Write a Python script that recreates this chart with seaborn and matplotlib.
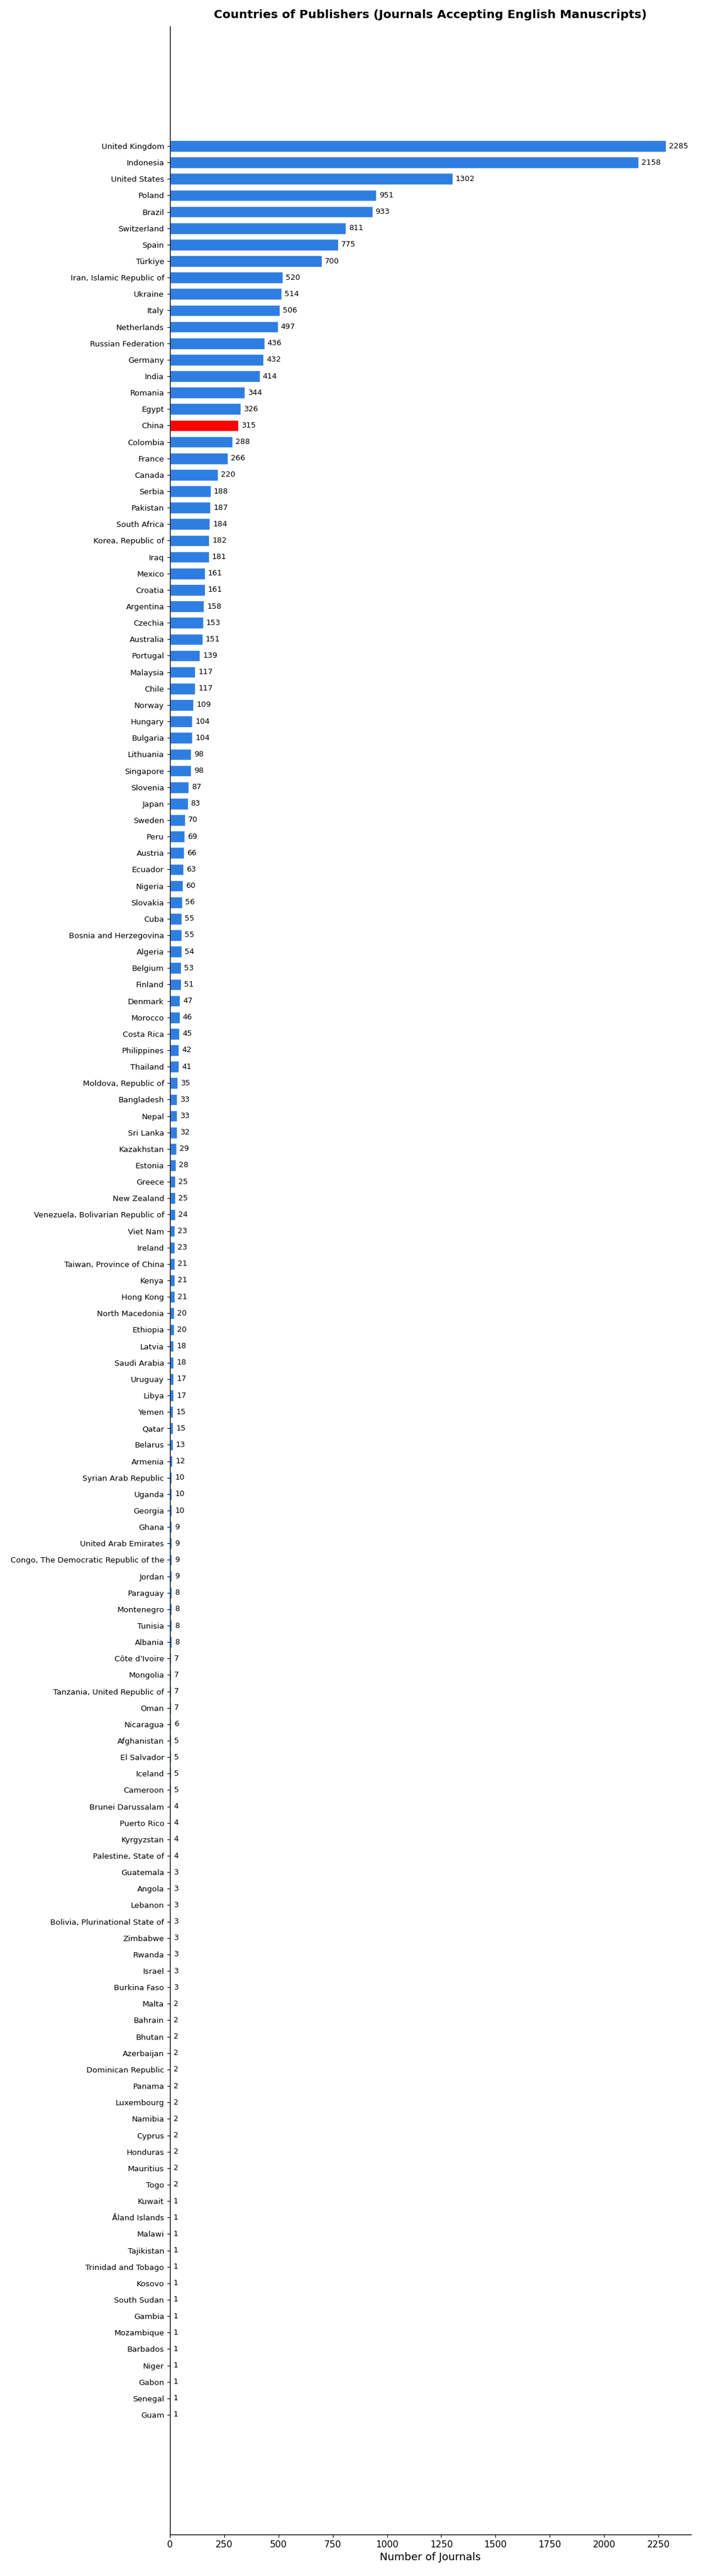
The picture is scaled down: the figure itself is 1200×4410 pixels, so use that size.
import matplotlib
matplotlib.use("Agg")
import matplotlib.pyplot as plt
from matplotlib.ticker import MultipleLocator
import seaborn as sns
import pandas as pd

countries = [
    "United Kingdom", "Indonesia", "United States", "Poland", "Brazil", "Switzerland",
    "Spain", "Türkiye", "Iran, Islamic Republic of", "Ukraine", "Italy", "Netherlands",
    "Russian Federation", "Germany", "India", "Romania", "Egypt", "China", "Colombia",
    "France", "Canada", "Serbia", "Pakistan", "South Africa", "Korea, Republic of",
    "Iraq", "Mexico", "Croatia", "Argentina", "Czechia", "Australia", "Portugal",
    "Malaysia", "Chile", "Norway", "Hungary", "Bulgaria", "Lithuania", "Singapore",
    "Slovenia", "Japan", "Sweden", "Peru", "Austria", "Ecuador", "Nigeria", "Slovakia",
    "Cuba", "Bosnia and Herzegovina", "Algeria", "Belgium", "Finland", "Denmark",
    "Morocco", "Costa Rica", "Philippines", "Thailand", "Moldova, Republic of",
    "Bangladesh", "Nepal", "Sri Lanka", "Kazakhstan", "Estonia", "Greece",
    "New Zealand", "Venezuela, Bolivarian Republic of", "Viet Nam", "Ireland",
    "Taiwan, Province of China", "Kenya", "Hong Kong", "North Macedonia", "Ethiopia",
    "Latvia", "Saudi Arabia", "Uruguay", "Libya", "Yemen", "Qatar", "Belarus",
    "Armenia", "Syrian Arab Republic", "Uganda", "Georgia", "Ghana",
    "United Arab Emirates", "Congo, The Democratic Republic of the", "Jordan",
    "Paraguay", "Montenegro", "Tunisia", "Albania", "Côte d'Ivoire", "Mongolia",
    "Tanzania, United Republic of", "Oman", "Nicaragua", "Afghanistan", "El Salvador",
    "Iceland", "Cameroon", "Brunei Darussalam", "Puerto Rico", "Kyrgyzstan",
    "Palestine, State of", "Guatemala", "Angola", "Lebanon",
    "Bolivia, Plurinational State of", "Zimbabwe", "Rwanda", "Israel", "Burkina Faso",
    "Malta", "Bahrain", "Bhutan", "Azerbaijan", "Dominican Republic", "Panama",
    "Luxembourg", "Namibia", "Cyprus", "Honduras", "Mauritius", "Togo", "Kuwait",
    "Åland Islands", "Malawi", "Tajikistan", "Trinidad and Tobago", "Kosovo",
    "South Sudan", "Gambia", "Mozambique", "Barbados", "Niger", "Gabon", "Senegal",
    "Guam",
]

counts = [
    2285, 2158, 1302, 951, 933, 811,
    775, 700, 520, 514, 506, 497,
    436, 432, 414, 344, 326, 315, 288,
    266, 220, 188, 187, 184, 182,
    181, 161, 161, 158, 153, 151, 139,
    117, 117, 109, 104, 104, 98, 98,
    87, 83, 70, 69, 66, 63, 60, 56,
    55, 55, 54, 53, 51, 47,
    46, 45, 42, 41, 35,
    33, 33, 32, 29, 28, 25,
    25, 24, 23, 23,
    21, 21, 21, 20, 20,
    18, 18, 17, 17, 15, 15, 13,
    12, 10, 10, 10, 9,
    9, 9, 9,
    8, 8, 8, 8, 7, 7,
    7, 7, 6, 5, 5,
    5, 5, 4, 4, 4,
    4, 3, 3, 3,
    3, 3, 3, 3, 3,
    2, 2, 2, 2, 2, 2,
    2, 2, 2, 2, 2, 2, 1,
    1, 1, 1, 1, 1,
    1, 1, 1, 1, 1, 1, 1,
    1,
]

highlight = "China"
base_color = "#2E7DE2"
highlight_color = "#FF0000"

df = pd.DataFrame({"country": countries, "count": counts})
palette = {c: (highlight_color if c == highlight else base_color) for c in countries}

sns.set_style("white")
plt.rcParams["font.family"] = ["DejaVu Sans"]
plt.rcParams["text.color"] = "black"
plt.rcParams["axes.labelcolor"] = "black"
plt.rcParams["xtick.color"] = "black"
plt.rcParams["ytick.color"] = "black"
plt.rcParams["axes.edgecolor"] = "black"

fig = plt.figure(figsize=(12, 44.1), dpi=100)
ax = fig.add_axes([0.2423, 0.0161, 0.7433, 0.9737])

bar_h = 0.7
sns.barplot(data=df, x="count", y="country", hue="country", palette=palette,
            legend=False, orient="h", width=bar_h, edgecolor="white",
            linewidth=1, saturation=1, ax=ax)

n = len(countries)
m = 0.05 * (n - 1 + bar_h)
ax.set_ylim(n - 1 + bar_h / 2 + m, -bar_h / 2 - m)
ax.set_xlim(0, max(counts) * 1.05)
ax.xaxis.set_major_locator(MultipleLocator(250))

for i, v in enumerate(counts):
    ax.annotate(str(v), xy=(v, i), xytext=(3.6, 0), textcoords="offset points",
                va="center", ha="left", fontsize=9.4, color="black")

ax.set_title("Countries of Publishers (Journals Accepting English Manuscripts)",
             fontsize=14.5, fontweight="bold", pad=10, color="black")
ax.set_xlabel("Number of Journals", fontsize=13, color="black")
ax.set_ylabel("")
ax.tick_params(axis="y", labelsize=9.6, left=True, length=3.5, width=0.8,
               colors="black")
ax.tick_params(axis="x", labelsize=11.2, bottom=True, length=3.5, width=0.8,
               colors="black")
for s in ["top", "right"]:
    ax.spines[s].set_visible(False)
for s in ["left", "bottom"]:
    ax.spines[s].set_color("black")
    ax.spines[s].set_linewidth(1.0)

fig.savefig("out.png", dpi=100)
